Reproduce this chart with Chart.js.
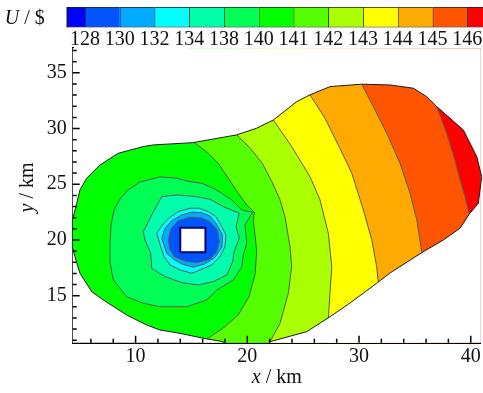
<!DOCTYPE html>
<html>
<head>
<meta charset="utf-8">
<script src="https://cdn.jsdelivr.net/npm/chart.js@4.4.1/dist/chart.umd.min.js"></script>
<style>
  html, body { margin: 0; padding: 0; background: #fff; }
  #wrap { position: relative; width: 483px; height: 393px; }
  #wrap canvas { position: absolute; left: 0; top: 0; }
</style>
</head>
<body>
<div id="wrap">
  <canvas id="field" width="483" height="393"></canvas>
  <canvas id="scale" width="483" height="52"></canvas>
</div>
<script>
// contour levels of U ($); band i lies below levels[i], the last band above 146
const levels = [128, 130, 132, 134, 138, 140, 141, 142, 143, 144, 145, 146];
const bandColors = ['#0000ff', '#0055ff', '#00aaff', '#00ffff', '#00ffaa', '#00ff55',
                    '#00ff00', '#55ff00', '#aaff00', '#ffff00', '#ffaa00', '#ff5500', '#ff0000'];

const xTicks = [10, 20, 30, 40];
const yTicks = [15, 20, 25, 30, 35];

// outline of the computed region (km), clockwise
const edge = [
  [4.3, 19.5], [4.3, 21.6], [4.73, 23.29], [5.02, 24.5], [5.62, 25.54], [6.81, 26.73],
  [8.45, 27.78], [10.69, 28.38], [11.58, 28.53], [15.11, 28.73], [19.05, 29.43], [20.84, 30.03],
  [22.33, 30.77], [24.42, 32.41], [25.61, 33.02], [27.4, 33.76], [30.24, 33.98], [32.78, 33.91],
  [34.86, 33.62], [36.06, 32.86], [36.96, 31.97], [39.34, 29.87], [40.54, 27.48], [40.98, 25.68],
  [40.68, 23.29], [39.87, 22.33], [39.04, 21.05], [37.55, 20.0], [35.61, 18.86], [32.78, 17.04],
  [31.58, 16.11], [29.19, 14.34], [27.4, 13.11], [25.32, 11.77], [22.03, 10.87], [21.85, 10.57],
  [17.91, 10.57], [17.85, 10.87], [16.06, 11.18], [13.97, 11.62], [12.18, 11.92], [10.99, 12.37],
  [9.2, 13.27], [7.11, 14.61], [6.07, 15.36], [5.02, 17.01], [4.57, 18.5]
];

// open iso-lines running north to south; U grows eastward (km)
const iso141 = [
  [14.69, 29.33], [15.17, 28.82], [16.51, 27.78], [17.4, 26.88], [18.3, 25.54], [19.19, 24.19],
  [19.95, 23.14], [20.63, 22.49], [20.54, 21.64], [20.69, 20.45], [20.84, 18.95], [20.69, 16.86],
  [20.15, 14.91], [19.19, 13.27], [18.0, 12.22], [16.37, 11.09], [15.32, 10.48]
];
const iso142 = [
  [18.63, 30.05], [19.05, 29.43], [20.24, 28.26], [21.32, 26.91], [22.21, 25.21], [22.93, 23.59],
  [23.37, 22.09], [23.82, 19.4], [23.97, 17.6], [23.67, 15.22], [22.93, 12.52], [22.03, 10.87],
  [21.58, 10.12]
];
const iso143 = [
  [21.85, 31.4], [22.33, 30.77], [23.97, 28.38], [25.61, 25.68], [26.51, 23.59], [27.25, 20.6],
  [27.56, 17.6], [27.4, 15.22], [27.25, 12.97], [27.13, 12.1]
];
const iso144 = [
  [25.17, 33.65], [25.61, 33.02], [26.95, 30.92], [28.29, 28.23], [29.35, 25.99], [30.39, 22.69],
  [31.14, 20.0], [31.58, 17.6], [31.73, 16.11], [31.88, 15.06]
];
const iso145 = [
  [29.99, 34.72], [30.24, 33.98], [31.28, 31.97], [32.48, 29.58], [33.67, 26.88], [34.57, 24.19],
  [35.17, 21.8], [35.61, 18.95], [35.73, 18.02]
];
const iso146 = [
  [36.53, 32.84], [36.96, 31.97], [37.85, 29.58], [38.59, 27.18], [39.04, 25.39], [39.49, 23.89],
  [39.87, 22.33], [40.03, 21.44]
];

// closed iso-lines round the source; U falls inward (km)
const iso140 = [
  [7.71, 19.7], [7.8, 21.35], [8.07, 22.69], [8.6, 23.68], [9.32, 24.48], [10.39, 25.2],
  [12.18, 25.66], [13.68, 25.54], [14.87, 25.23], [15.92, 25.09], [16.96, 24.64], [17.71, 24.19],
  [18.6, 23.59], [19.5, 22.69], [20.47, 22.47], [19.79, 21.35], [19.95, 19.7], [19.64, 18.65],
  [19.5, 17.6], [18.75, 16.41], [17.26, 15.51], [16.37, 14.61], [14.57, 14.01], [12.18, 14.01],
  [10.69, 14.32], [9.2, 14.91], [8.0, 16.41], [7.71, 18.03]
];
const iso138 = [
  [10.69, 20.75], [11.44, 22.24], [12.34, 23.89], [13.68, 24.04], [15.47, 23.89], [16.66, 23.65],
  [17.85, 22.99], [19.28, 22.4], [18.99, 21.19], [19.28, 20.15], [18.81, 18.95], [18.69, 18.05],
  [18.16, 16.86], [16.96, 16.26], [15.61, 15.96], [14.13, 16.17], [12.63, 16.71], [11.44, 17.46],
  [11.35, 18.81], [10.84, 20.0]
];
const iso134 = [
  [11.89, 20.6], [12.48, 21.44], [13.08, 22.04], [13.82, 22.54], [14.87, 22.85], [15.7, 22.85],
  [16.51, 22.54], [17.2, 22.09], [17.71, 21.19], [18.09, 20.45], [18.0, 19.4], [17.56, 18.5],
  [16.81, 17.76], [15.77, 17.31], [15.02, 17.01], [13.97, 17.31], [13.08, 17.76], [12.54, 18.5],
  [12.25, 19.4]
];
const iso132 = [
  [12.34, 20.15], [12.63, 21.05], [13.23, 21.73], [14.13, 22.24], [15.02, 22.49], [15.92, 22.45],
  [16.66, 22.15], [17.2, 21.5], [17.78, 20.45], [17.73, 19.34], [17.11, 18.45], [16.21, 17.85],
  [15.17, 17.55], [14.13, 17.85], [13.38, 18.27], [12.78, 18.81]
];
const iso130 = [
  [12.93, 20.0], [13.14, 20.96], [13.82, 21.73], [14.87, 22.04], [15.92, 21.97], [16.66, 21.64],
  [17.31, 20.9], [17.49, 19.85], [17.26, 18.95], [16.66, 18.27], [15.47, 17.96], [14.42, 18.11],
  [13.53, 18.45], [13.08, 19.1]
];

// blank cell at the source
const hole = [[14.0, 18.9], [14.0, 21.1], [16.25, 21.1], [16.25, 18.9]];

const FONT = "'Liberation Serif', 'Times New Roman', serif";
const ISO_LINE = '#5a5a5a';

const toPts = arr => arr.map(([x, y]) => ({x, y}));
const closed = arr => toPts(arr.concat([arr[0]]));

// everything east of an open iso-line, closed well outside the axes
function eastOf(line) {
  const first = line[0], last = line[line.length - 1];
  return toPts(line.concat([[last[0], -10], [60, -10], [60, 60], [first[0], 60]]));
}

// white cover for the area outside the outline (outline runs opposite to the frame)
function outside(outline) {
  const p = outline[0];
  return toPts(outline.concat([p, [-10, p[1]], [-10, -10], [60, -10], [60, 60], [-10, 60], [-10, p[1]]]));
}

const layers = [];
function layer(data, fillColor, lineColor, lineWidth) {
  layers.push({
    data,
    showLine: true,
    pointRadius: 0,
    pointHoverRadius: 0,
    tension: 0,
    clip: {left: 0, top: 0, right: 3, bottom: 0},
    fill: fillColor ? 'shape' : false,
    backgroundColor: fillColor || 'transparent',
    borderColor: lineColor || 'transparent',
    borderWidth: lineColor ? lineWidth : 0
  });
}

layer(closed(edge), bandColors[levels.indexOf(141)]);
[[141, iso141], [142, iso142], [143, iso143], [144, iso144], [145, iso145], [146, iso146]]
  .forEach(([lv, pts]) => layer(eastOf(pts), bandColors[levels.indexOf(lv) + 1], ISO_LINE, 1));
[[140, iso140], [138, iso138], [134, iso134], [132, iso132], [130, iso130]]
  .forEach(([lv, pts]) => layer(closed(pts), bandColors[levels.indexOf(lv)], ISO_LINE, 1));
layer(outside(edge), '#ffffff');
layer(closed(edge), null, '#1a1a1a', 1);
layer(closed(hole), '#ffffff', '#00006e', 2);

// chart.js paints higher `order` first
layers.forEach((ds, i) => { ds.order = layers.length - i; });

function drawUnit(ctx, parts, cx, cy, angle) {
  ctx.save();
  ctx.translate(cx, cy);
  ctx.rotate(angle);
  ctx.fillStyle = '#111';
  ctx.textBaseline = 'middle';
  const fonts = parts.map(p => (p[1] ? 'italic ' : '') + '20px ' + FONT);
  let w = 0;
  parts.forEach((p, i) => { ctx.font = fonts[i]; w += ctx.measureText(p[0]).width; });
  let x = -w / 2;
  parts.forEach((p, i) => {
    ctx.font = fonts[i];
    ctx.fillText(p[0], x, 0);
    x += ctx.measureText(p[0]).width;
  });
  ctx.restore();
}

// tick marks point into the plot, minor ones shorter; axis titles with italic symbols
const innerTicks = {
  id: 'innerTicks',
  afterDraw(chart) {
    const {ctx, chartArea: a, scales: {x, y}} = chart;
    ctx.save();
    ctx.strokeStyle = '#000';
    ctx.lineWidth = 1.5;
    ctx.beginPath();
    for (let v = Math.ceil(x.min / 2) * 2; v <= x.max; v += 2) {
      const p = x.getPixelForValue(v);
      ctx.moveTo(p, a.bottom);
      ctx.lineTo(p, a.bottom - (xTicks.includes(v) ? 7 : 4));
    }
    for (let v = Math.ceil(y.min); v <= y.max; v++) {
      const p = y.getPixelForValue(v);
      ctx.moveTo(a.left, p);
      ctx.lineTo(a.left + (yTicks.includes(v) ? 7 : 4), p);
    }
    ctx.stroke();
    ctx.restore();
    drawUnit(ctx, [['x', true], [' / km', false]], (a.left + a.right) / 2, a.bottom + 35, 0);
    drawUnit(ctx, [['y', true], [' / km', false]], a.left - 45, (a.top + a.bottom) / 2 - 8, -Math.PI / 2);
  }
};

const tickFont = {family: FONT, size: 20};

new Chart(document.getElementById('field'), {
  type: 'scatter',
  data: {datasets: layers},
  options: {
    responsive: false,
    animation: false,
    events: [],
    devicePixelRatio: 1,
    layout: {padding: {top: 48.3, right: 2.2, left: 0, bottom: 0}},
    plugins: {legend: {display: false}, tooltip: {enabled: false}},
    scales: {
      x: {
        type: 'linear', position: 'bottom', min: 4.37, max: 40.9, z: 1,
        grid: {display: false, drawTicks: false},
        border: {display: true, color: '#000', width: 2},
        afterBuildTicks: s => { s.ticks = xTicks.map(value => ({value})); },
        afterFit: s => { s.height = 50.3; },
        ticks: {font: tickFont, color: '#111', padding: 2, maxRotation: 0, autoSkip: false}
      },
      y: {
        type: 'linear', position: 'left', min: 10.78, max: 37.2, z: 1,
        grid: {display: false, drawTicks: false},
        border: {display: true, color: '#000', width: 2},
        afterBuildTicks: s => { s.ticks = yTicks.map(value => ({value})); },
        afterFit: s => { s.width = 72.7; },
        ticks: {font: tickFont, color: '#111', padding: 6, autoSkip: false}
      }
    }
  },
  plugins: [innerTicks]
});

// colour key: one cell per band, level labels on the cell joints
const keyFrame = {
  id: 'keyFrame',
  afterDraw(chart) {
    const {ctx, chartArea: a} = chart;
    ctx.save();
    ctx.strokeStyle = '#222';
    ctx.lineWidth = 1;
    ctx.beginPath();
    ctx.moveTo(a.left + 0.5, a.top);
    ctx.lineTo(a.left + 0.5, a.bottom);
    ctx.stroke();
    ctx.restore();
    drawUnit(ctx, [['U', true], [' / $', false]], a.left - 42, (a.top + a.bottom) / 2 + 1, 0);
  }
};

new Chart(document.getElementById('scale'), {
  type: 'bar',
  data: {
    labels: ['U'],
    datasets: bandColors.map(c => ({
      data: [1],
      backgroundColor: c,
      borderColor: '#222',
      borderWidth: {top: 1, bottom: 1, left: 1, right: 0},
      borderSkipped: false,
      barPercentage: 1,
      categoryPercentage: 1,
      clip: 0
    }))
  },
  options: {
    indexAxis: 'y',
    responsive: false,
    animation: false,
    events: [],
    devicePixelRatio: 1,
    layout: {padding: {left: 66.7, right: 0, top: 7, bottom: 4}},
    plugins: {legend: {display: false}, tooltip: {enabled: false}},
    scales: {
      x: {
        type: 'linear', stacked: true, min: 0.473, max: 12.45,
        grid: {display: false, drawTicks: false},
        border: {display: false},
        afterBuildTicks: s => { s.ticks = levels.map((v, i) => ({value: i + 1})); },
        ticks: {font: tickFont, color: '#111', padding: 0, autoSkip: false, maxRotation: 0,
                callback: (v, i) => levels[i]}
      },
      y: {stacked: true, display: false}
    }
  },
  plugins: [keyFrame]
});
</script>
</body>
</html>
